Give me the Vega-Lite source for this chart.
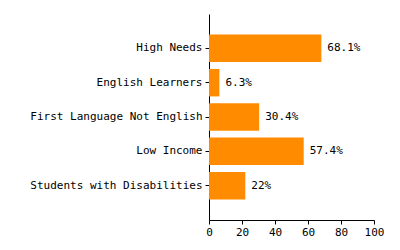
{
  "$schema": "https://vega.github.io/schema/vega-lite/v6.json",
  "width": 165,
  "height": 206,
  "autosize": "none",
  "padding": {"left": 209, "top": 14, "right": 26, "bottom": 30},
  "background": "white",
  "data": {
    "values": [
      {"group": "High Needs", "value": 68.1, "label": "68.1%"},
      {"group": "English Learners", "value": 6.3, "label": "6.3%"},
      {"group": "First Language Not English", "value": 30.4, "label": "30.4%"},
      {"group": "Low Income", "value": 57.4, "label": "57.4%"},
      {"group": "Students with Disabilities", "value": 22, "label": "22%"}
    ]
  },
  "encoding": {
    "y": {
      "field": "group",
      "type": "nominal",
      "sort": null,
      "scale": {"paddingInner": 0.2, "paddingOuter": 0.6},
      "axis": {"title": null, "tickSize": 4, "labelPadding": 3}
    },
    "x": {
      "field": "value",
      "type": "quantitative",
      "scale": {"domain": [0, 100], "nice": false},
      "axis": {"title": null, "values": [0, 20, 40, 60, 80, 100], "tickSize": 4, "labelPadding": 2, "labelFlush": false, "labelOverlap": false}
    }
  },
  "layer": [
    {"mark": {"type": "bar", "color": "#FF8C00"}},
    {
      "mark": {"type": "text", "align": "left", "baseline": "middle", "dx": 6, "font": "DejaVu Sans Mono", "fontSize": 11, "color": "black"},
      "encoding": {"text": {"field": "label"}}
    }
  ],
  "config": {
    "view": {"stroke": null},
    "axis": {
      "grid": false,
      "labelFont": "DejaVu Sans Mono",
      "labelFontSize": 11,
      "labelColor": "black",
      "domainColor": "black",
      "tickColor": "black",
      "domainWidth": 1,
      "tickWidth": 1
    }
  }
}
